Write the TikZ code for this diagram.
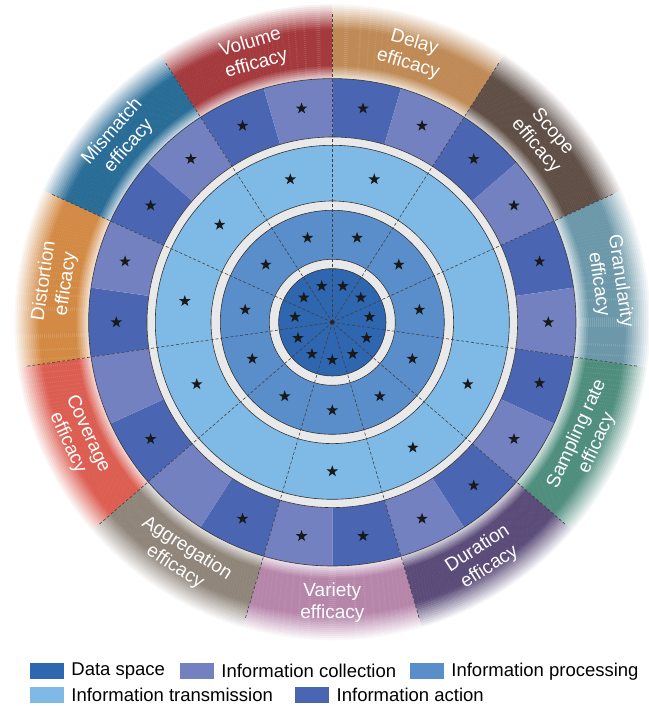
\documentclass[tikz,border=0pt]{standalone}
\usepackage{fontspec}
\setmainfont{Liberation Sans}
\usetikzlibrary{shapes.geometric,positioning}

\definecolor{dataspace}{HTML}{2F66B0}
\definecolor{collection}{HTML}{7381C1}
\definecolor{processing}{HTML}{5A8ECB}
\definecolor{transmission}{HTML}{7FBAE6}
\definecolor{action}{HTML}{4A66B2}
\definecolor{grayring}{HTML}{E9E9E9}
\definecolor{volume}{HTML}{A43A3E}
\definecolor{delay}{HTML}{BF8A56}
\definecolor{scope}{HTML}{5F4F47}
\definecolor{granularity}{HTML}{6C98A9}
\definecolor{sampling}{HTML}{4F8E7D}
\definecolor{duration}{HTML}{5A4B78}
\definecolor{variety}{HTML}{B685AA}
\definecolor{aggregation}{HTML}{8F857B}
\definecolor{coverage}{HTML}{DC5E52}
\definecolor{distortion}{HTML}{D38A45}
\definecolor{mismatch}{HTML}{296C96}

% annular sector: start angle, end angle, inner radius, outer radius, colour
\newcommand{\ringsector}[5]{%
  \fill[#5] (#1:#3) -- (#1:#4) arc[start angle=#1, end angle=#2, radius=#4]
    -- (#2:#3) arc[start angle=#2, end angle=#1, radius=#3] -- cycle;}

\tikzset{
  ringline/.style={draw=black!80, line width=0.6pt},
  segline/.style={draw=black!75, dash pattern=on 3pt off 2pt, line width=0.6pt},
  starmark/.style={star, star points=5, star point ratio=2.5, fill=black!90,
    inner sep=0pt, minimum size=12pt},
  efflabel/.style={text=white, align=center, inner sep=0pt,
    font=\fontsize{19}{22}\selectfont},
  legbox/.style={minimum width=34pt, minimum height=16pt, inner sep=0pt},
  legtext/.style={font=\fontsize{18.5}{21}\selectfont, inner sep=0pt},
}

\begin{document}
\begin{tikzpicture}[x=1pt,y=1pt]
\useasboundingbox (-332.3,-383.7) rectangle (315.7,322.3);
\coordinate (O) at (0,0);

% efficacy ring, faded at both edges
\foreach \k/\col in {0/volume,1/delay,2/scope,3/granularity,4/sampling,5/duration,
    6/variety,7/aggregation,8/coverage,9/distortion,10/mismatch}{
  \pgfmathsetmacro\sa{122.7273-32.7273*\k}
  \pgfmathsetmacro\ea{\sa-32.7273}
  \foreach \r in {244,246,...,318}{
    \pgfmathtruncatemacro\p{min(min(100,30+(\r-244)*6),max(0,(318-\r)*3.8))}
    \ringsector{\sa}{\ea}{\r}{\r+2.3}{\col!\p!white}
  }
}

% action / collection ring
\foreach \k in {0,...,10}{
  \pgfmathsetmacro\sa{122.7273-32.7273*\k}
  \ringsector{\sa}{\sa-16.3636}{185.3}{243.7}{action}
  \ringsector{\sa-16.3636}{\sa-32.7273}{185.3}{243.7}{collection}
}

% inner rings
\fill[grayring] (O) circle (185.3);
\fill[transmission] (O) circle (177);
\fill[grayring] (O) circle (121.3);
\fill[processing] (O) circle (112);
\fill[grayring] (O) circle (63);
\fill[dataspace] (O) circle (53.7);
\foreach \r in {53.7,63,112,121.3,177,185.3,243.7}
  \draw[ringline] (O) circle (\r);

% segment borders
\foreach \k in {0,...,10}
  \draw[segline] (O) -- ({122.7273-32.7273*\k}:310);
\fill[black!85] (O) circle (2.2);

% stars
\foreach \k in {0,...,10}{
  \pgfmathsetmacro\c{106.3636-32.7273*\k}
  \node[starmark] (ds\k) at (\c:37.7) {};
  \node[starmark] (ip\k) at (\c:88) {};
  \node[starmark] (ia\k) at (\c+8.1818:216) {};
}
\foreach \k in {0,1,4,5,6,8,9,10}
  \node[starmark] (it\k) at ({106.3636-32.7273*\k}:149) {};
\foreach \k in {0,1,2,3,4,5,6,9,10}
  \node[starmark] (ic\k) at ({106.3636-32.7273*\k-8.1818}:216) {};

% efficacy labels
\foreach \k/\txt in {0/{Volume\\efficacy},1/{Delay\\efficacy},2/{Scope\\efficacy},
    3/{Granularity\\efficacy},4/{Sampling rate\\efficacy},5/{Duration\\efficacy},
    6/{Variety\\efficacy},7/{Aggregation\\efficacy},8/{Coverage\\efficacy},
    9/{Distortion\\efficacy},10/{Mismatch\\efficacy}}{
  \pgfmathsetmacro\c{106.3636-32.7273*\k}
  \pgfmathsetmacro\rot{(\k>3 && \k<9) ? \c+90 : \c-90}
  \node[efflabel, rotate=\rot] (lab\k) at (\c:280) {\txt};
}

% legend
\node[legbox, fill=dataspace] (lg1) at (-285.3,-349) {};
\node[legtext, right=7pt of lg1] (lt1) {Data space};
\node[legbox, fill=collection] (lg2) at (-135.3,-349) {};
\node[legtext, right=7pt of lg2] (lt2) {Information collection};
\node[legbox, fill=processing] (lg3) at (94.7,-349) {};
\node[legtext, right=7pt of lg3] (lt3) {Information processing};
\node[legbox, fill=transmission] (lg4) at (-285.3,-372.5) {};
\node[legtext, right=7pt of lg4] (lt4) {Information transmission};
\node[legbox, fill=action] (lg5) at (-20,-372.5) {};
\node[legtext, right=7pt of lg5] (lt5) {Information action};
\end{tikzpicture}
\end{document}
